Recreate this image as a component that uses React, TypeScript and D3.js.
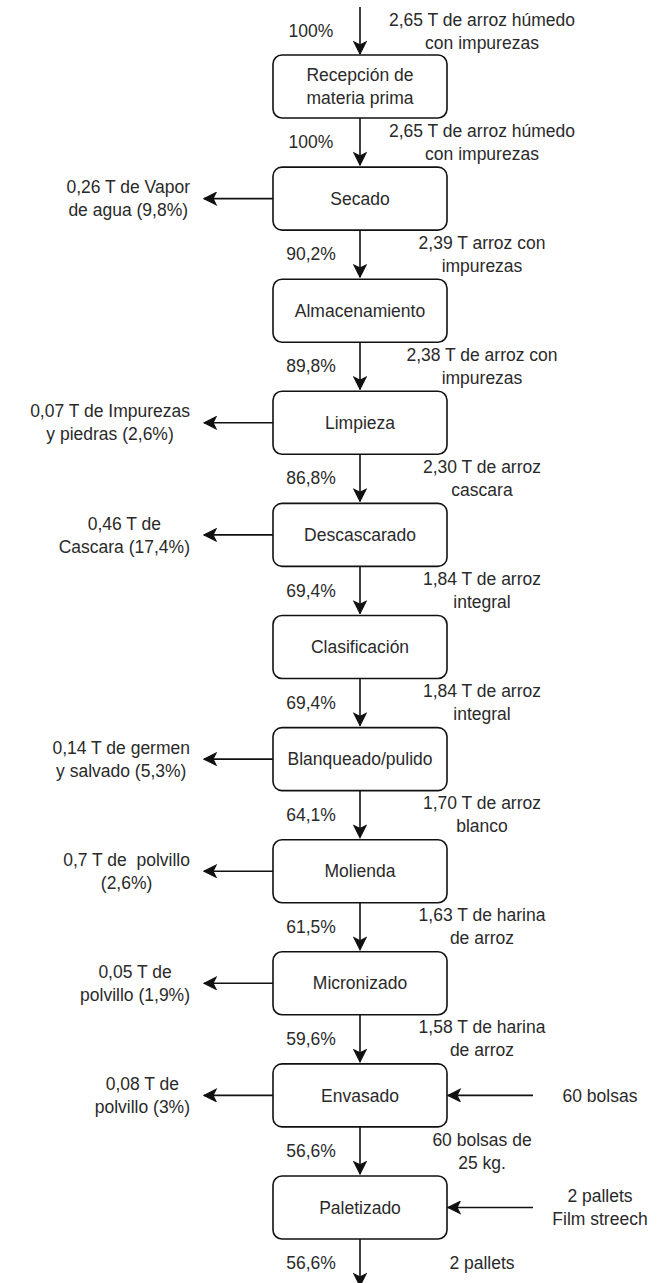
import React, { useEffect, useRef } from "react";
import * as d3 from "d3";

// ---- data ----
const stepNames: string[] = [
  "Recepción de\nmateria prima",
  "Secado",
  "Almacenamiento",
  "Limpieza",
  "Descascarado",
  "Clasificación",
  "Blanqueado/pulido",
  "Molienda",
  "Micronizado",
  "Envasado",
  "Paletizado",
];

// percentage on each vertical flow (before first step, then after each step)
const flowPercents: string[] = [
  "100%", "100%", "90,2%", "89,8%", "86,8%", "69,4%",
  "69,4%", "64,1%", "61,5%", "59,6%", "56,6%", "56,6%",
];

const flowLabels: string[] = [
  "2,65 T de arroz húmedo\ncon impurezas",
  "2,65 T de arroz húmedo\ncon impurezas",
  "2,39 T arroz con\nimpurezas",
  "2,38 T de arroz con\nimpurezas",
  "2,30 T de arroz\ncascara",
  "1,84 T de arroz\nintegral",
  "1,84 T de arroz\nintegral",
  "1,70 T de arroz\nblanco",
  "1,63 T de harina\nde arroz",
  "1,58 T de harina\nde arroz",
  "60 bolsas de\n25 kg.",
  "2 pallets",
];

const wasteLabels: (string | null)[] = [
  null,
  "0,26 T de Vapor\nde agua (9,8%)",
  null,
  "0,07 T de Impurezas\ny piedras (2,6%)",
  "0,46 T de\nCascara (17,4%)",
  null,
  "0,14 T de germen\ny salvado (5,3%)",
  "0,7 T de  polvillo\n(2,6%)",
  "0,05 T de\npolvillo (1,9%)",
  "0,08 T de\npolvillo (3%)",
  null,
];

const inputLabels: (string | null)[] = [
  null, null, null, null, null, null, null, null, null,
  "60 bolsas",
  "2 pallets\nFilm streech",
];

// ---- layout ----
const W = 657;
const H = 1283;
const BOX_X = 273;
const BOX_W = 174;
const BOX_H = 63;
const CX = BOX_X + BOX_W / 2;
const GAP = 48;
const FONT = 17.5;
const LINE = 23;
const PCT_X = 311;
const FLOW_LABEL_X = 482;
const WASTE_TIP = 203;
const INPUT_START = 533;
const INPUT_LABEL_X = 600;
const INK = "#111111";
const TXT = "#2a2a2a";

export default function App() {
  const ref = useRef<SVGSVGElement>(null);

  useEffect(() => {
    const svg = d3.select(ref.current);
    svg.selectAll("*").remove();

    const y = d3
      .scaleLinear()
      .domain([0, stepNames.length - 1])
      .range([55, 1176]);

    const defs = svg.append("defs");
    defs
      .append("marker")
      .attr("id", "arr")
      .attr("viewBox", "-14 -7 15 14")
      .attr("refX", 0)
      .attr("refY", 0)
      .attr("markerWidth", 15)
      .attr("markerHeight", 14)
      .attr("markerUnits", "userSpaceOnUse")
      .attr("orient", "auto")
      .append("path")
      .attr("d", "M0,0 L-12,-6 L-9,0 L-12,6 Z")
      .attr("fill", INK)
      .attr("stroke", INK)
      .attr("stroke-width", 1.2)
      .attr("stroke-linejoin", "miter");

    const g = svg
      .append("g")
      .attr("font-family", "'Liberation Sans', Arial, Helvetica, sans-serif")
      .attr("font-size", FONT)
      .attr("fill", TXT);

    const multiline = (
      sel: d3.Selection<SVGGElement, unknown, null, undefined>,
      text: string,
      x: number,
      cy: number,
      anchor = "middle"
    ) => {
      const lines = text.split("\n");
      const t = sel
        .append("text")
        .attr("text-anchor", anchor)
        .style("white-space", "pre");
      lines.forEach((ln, i) => {
        t.append("tspan")
          .attr("x", x)
          .attr("y", cy + (i - (lines.length - 1) / 2) * LINE)
          .attr("dy", "0.35em")
          .text(ln);
      });
      return t;
    };

    const lineSel = g
      .append("g")
      .attr("stroke", INK)
      .attr("stroke-width", 1.6)
      .attr("fill", "none");

    // vertical flows
    flowPercents.forEach((pct, i) => {
      const top = i === 0 ? y(0) - GAP : y(i - 1) + BOX_H;
      const bottom = top + GAP;
      lineSel
        .append("line")
        .attr("x1", CX)
        .attr("x2", CX)
        .attr("y1", top)
        .attr("y2", bottom - 1)
        .attr("marker-end", "url(#arr)");
      const mid = top + GAP / 2;
      multiline(g, pct, PCT_X, mid);
      multiline(g, flowLabels[i], FLOW_LABEL_X, mid);
    });

    // boxes
    stepNames.forEach((name, i) => {
      lineSel
        .append("rect")
        .attr("x", BOX_X)
        .attr("y", y(i))
        .attr("width", BOX_W)
        .attr("height", BOX_H)
        .attr("rx", 9)
        .attr("ry", 9)
        .attr("fill", "#ffffff");
      multiline(g, name, CX, y(i) + BOX_H / 2);
    });

    // waste outputs (left)
    wasteLabels.forEach((lab, i) => {
      if (!lab) return;
      const cy = y(i) + BOX_H / 2;
      lineSel
        .append("line")
        .attr("x1", BOX_X)
        .attr("x2", WASTE_TIP + 1)
        .attr("y1", cy)
        .attr("y2", cy)
        .attr("marker-end", "url(#arr)");
      const t = multiline(g, lab, 0, cy);
      let maxW = 0;
      t.selectAll<SVGTSpanElement, unknown>("tspan").each(function () {
        maxW = Math.max(maxW, this.getComputedTextLength());
      });
      const center = WASTE_TIP - 13 - maxW / 2;
      t.selectAll("tspan").attr("x", center);
    });

    // inputs (right)
    inputLabels.forEach((lab, i) => {
      if (!lab) return;
      const cy = y(i) + BOX_H / 2;
      lineSel
        .append("line")
        .attr("x1", INPUT_START)
        .attr("x2", BOX_X + BOX_W + 1)
        .attr("y1", cy)
        .attr("y2", cy)
        .attr("marker-end", "url(#arr)");
      multiline(g, lab, INPUT_LABEL_X, cy);
    });
  }, []);

  return (
    <svg
      ref={ref}
      width={W}
      height={H}
      viewBox={`0 0 ${W} ${H}`}
      style={{ position: "absolute", left: 0, top: 0, background: "#ffffff" }}
    />
  );
}
